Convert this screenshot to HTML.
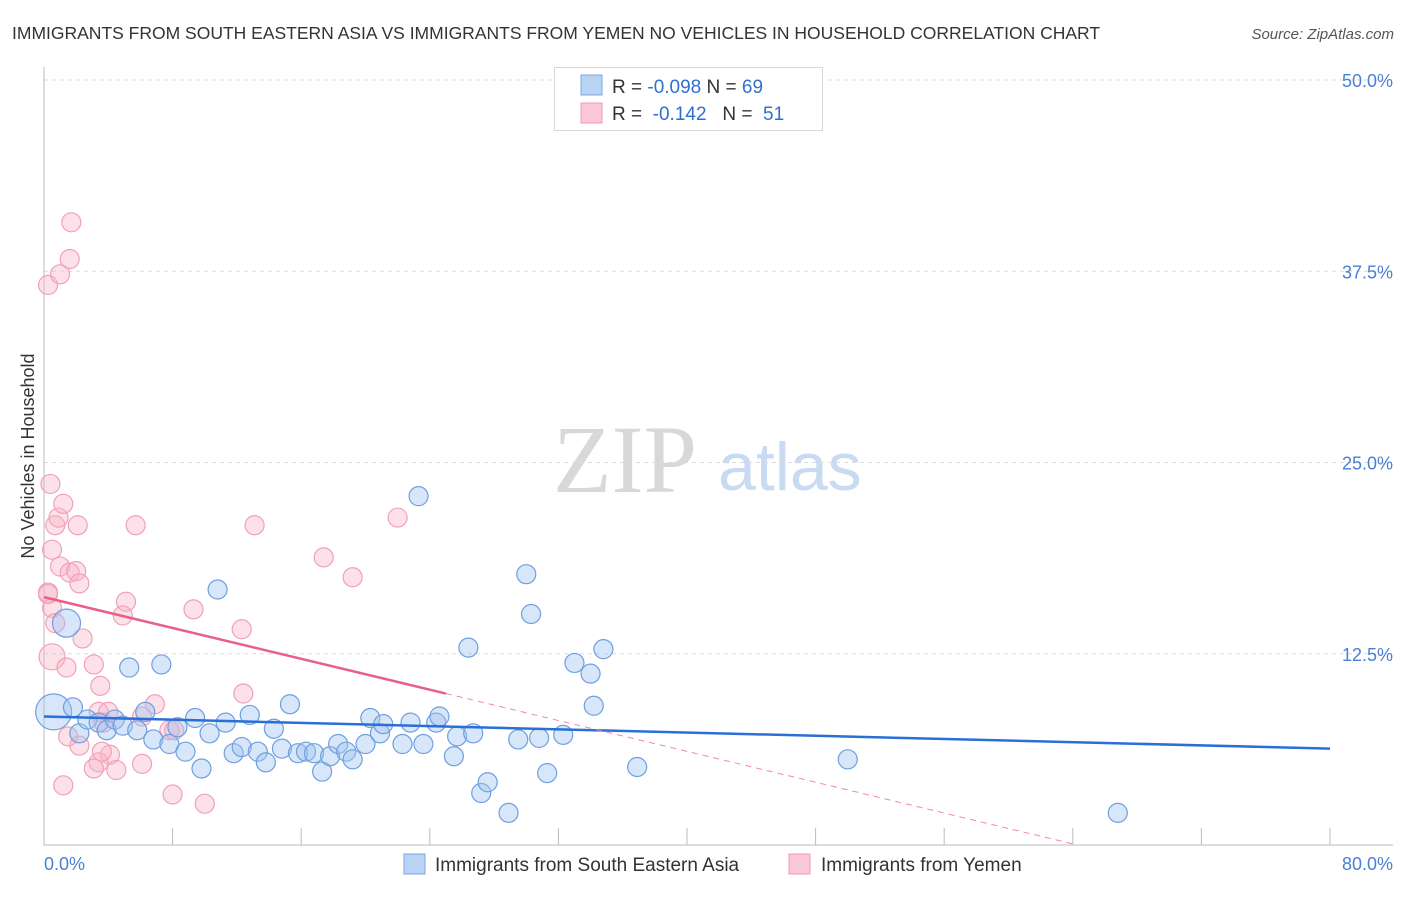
<!DOCTYPE html>
<html><head><meta charset="utf-8"><style>
body{margin:0;background:#fff;font-family:"Liberation Sans",sans-serif;}
svg text{font-family:"Liberation Sans",sans-serif;}
</style></head><body>
<svg id="chart" width="1406" height="892" viewBox="0 0 1406 892" xmlns="http://www.w3.org/2000/svg">
<text x="12" y="39" font-size="17.5" fill="#333">IMMIGRANTS FROM SOUTH EASTERN ASIA VS IMMIGRANTS FROM YEMEN NO VEHICLES IN HOUSEHOLD CORRELATION CHART</text>
<text x="1394" y="39" font-size="15" fill="#555" font-style="italic" text-anchor="end">Source: ZipAtlas.com</text>
<g>
<text x="553" y="492" font-size="96" fill="#d8d8d8" font-family="Liberation Serif" style="font-family:'Liberation Serif',serif">ZIP</text>
<text x="718" y="490" font-size="68" fill="#c9dbf3">atlas</text>
</g>
<g id="grid"></g>
<g id="axes"></g>
<g id="pts"></g>
<g id="trends"></g>
<text transform="translate(34,456) rotate(-90)" font-size="18" fill="#333" text-anchor="middle">No Vehicles in Household</text>
<g>
<rect x="554.5" y="67.5" width="268" height="63" fill="#fff" stroke="#d8d8d8"/>
<rect x="581" y="75" width="21" height="20" fill="#b9d3f5" stroke="#7aa7e6"/>
<text x="612" y="93" font-size="19" fill="#333">R = <tspan fill="#2f6fd0">-0.098</tspan>   N = <tspan fill="#2f6fd0">69</tspan></text>
<rect x="581" y="103" width="21" height="20" fill="#fac8d6" stroke="#f09ab5"/>
<text x="612" y="120" font-size="19" fill="#333" xml:space="preserve">R =  <tspan fill="#2f6fd0">-0.142</tspan>   N =  <tspan fill="#2f6fd0">51</tspan></text>
</g>
<g>
<rect x="404" y="854" width="21" height="20" fill="#b9d3f5" stroke="#7aa7e6"/>
<text x="435" y="871" font-size="19" fill="#333">Immigrants from South Eastern Asia</text>
<rect x="789" y="854" width="21" height="20" fill="#fac8d6" stroke="#f09ab5"/>
<text x="821" y="871" font-size="19" fill="#333">Immigrants from Yemen</text>
</g>
</svg>
<script>
const yTicks=[12.5,25,37.5,50];
const yTickLabels=["12.5%","25.0%","37.5%","50.0%"];
const xTickLabels=["0.0%","80.0%"];
const blueX=[0.5,0.6,1.4,1.8,2.2,2.7,3.4,3.9,4.4,4.9,5.3,5.8,6.3,6.8,7.3,7.8,8.3,8.8,9.4,9.8,10.3,10.8,11.3,11.8,12.3,12.8,13.3,13.8,14.3,14.8,15.3,15.8,16.3,16.8,17.3,17.8,18.3,18.8,19.2,20.0,20.3,20.9,21.1,22.3,22.8,23.3,23.6,24.4,24.6,25.5,25.7,26.4,26.7,27.2,27.6,28.9,29.5,30.0,30.3,30.8,31.3,32.3,33.0,34.0,34.2,34.8,36.9,50.0,66.8];
const blueY=[8.0,8.7,14.5,9.0,7.3,8.2,8.0,7.5,8.2,7.8,11.6,7.5,8.7,6.9,11.8,6.6,7.7,6.1,8.3,5.0,7.3,16.7,8.0,6.0,6.4,8.5,6.1,5.4,7.6,6.3,9.2,6.0,6.1,6.0,4.8,5.8,6.6,6.1,5.6,6.6,8.3,7.3,7.9,6.6,8.0,22.8,6.6,8.0,8.4,5.8,7.1,12.9,7.3,3.4,4.1,2.1,6.9,17.7,15.1,7.0,4.7,7.2,11.9,11.2,9.1,12.8,5.1,5.6,2.1];
const blueSize=[4,3,2];
const pinkX=[0.25,1.0,1.7,1.6,0.4,0.7,0.9,1.2,2.1,0.5,1.0,1.6,2.0,2.2,0.25,0.5,0.5,2.4,1.4,3.1,3.5,3.4,3.7,4.1,3.4,3.1,4.5,1.5,2.2,1.2,5.7,5.1,4.9,6.9,7.8,8.0,10.0,9.3,12.3,12.4,13.1,17.4,19.2,22.0,6.1,6.1,0.25,4.0,3.6,0.7,8.1];
const pinkY=[36.6,37.3,40.7,38.3,23.6,20.9,21.4,22.3,20.9,19.3,18.2,17.8,17.9,17.1,16.5,15.5,12.3,13.5,11.6,11.8,10.4,8.7,8.0,5.9,5.4,5.0,4.9,7.1,6.5,3.9,20.9,15.9,15.0,9.2,7.5,3.3,2.7,15.4,14.1,9.9,20.9,18.8,17.5,21.4,5.3,8.4,16.4,8.7,6.1,14.5,7.5];
const blueTrend=[8.4,6.3];      // value at x=0 and x=80
const pinkTrend=[16.2,-0.252];  // intercept, slope
const pinkSolidEnd=25;

const X0=44,X1=1330,Y0=845,Y50=80;
const sx=v=>X0+(X1-X0)*v/80;
const sy=v=>Y0-(Y0-Y50)*v/50;
const NS="http://www.w3.org/2000/svg";
function mk(tag,attrs,parent){const e=document.createElementNS(NS,tag);for(const k in attrs)e.setAttribute(k,attrs[k]);parent.appendChild(e);return e;}
const grid=document.getElementById('grid'),axes=document.getElementById('axes'),pts=document.getElementById('pts'),tr=document.getElementById('trends');
yTicks.forEach((t,i)=>{
  const l=mk('line',{x1:44,x2:1393,y1:sy(t),y2:sy(t),stroke:'#dcdcdc','stroke-dasharray':'4,4'},grid);
  
  
  const tx=mk('text',{x:1393,y:sy(t)+7,'font-size':18,fill:'#4a7fd4','text-anchor':'end'},axes);
  tx.textContent=yTickLabels[i];
  
  
});
const ax=mk('line',{x1:44,x2:1393,y1:Y0,y2:Y0,stroke:'#bbb'},axes);


const ay=mk('line',{x1:44,x2:44,y1:67,y2:Y0,stroke:'#bbb'},axes);


for(let v=8;v<=80;v+=8){
  const t=mk('line',{x1:sx(v),x2:sx(v),y1:828,y2:Y0,stroke:'#bbb'},axes);
  
  
}
const xl0=mk('text',{x:44,y:870,'font-size':18,fill:'#4a7fd4'},axes);
xl0.textContent=xTickLabels[0];


const xl1=mk('text',{x:1393,y:870,'font-size':18,fill:'#4a7fd4','text-anchor':'end'},axes);
xl1.textContent=xTickLabels[1];



const rad=s=>[9.5,12,14,18][s||0];
pinkX.forEach((x,i)=>{
  const c=mk('circle',{cx:sx(x),cy:sy(pinkY[i]),r:i===16?13:9.5,fill:'rgba(248,180,200,0.4)',stroke:'#f2a0ba','stroke-width':1.2},pts);
  
  
});
blueX.forEach((x,i)=>{
  const c=mk('circle',{cx:sx(x),cy:sy(blueY[i]),r:rad(blueSize[i]),fill:'rgba(160,196,240,0.42)',stroke:'#6e9fe0','stroke-width':1.2},pts);
  
  
});
const bl=mk('line',{x1:sx(0),y1:sy(blueTrend[0]),x2:sx(80),y2:sy(blueTrend[1]),stroke:'#2a6fd6','stroke-width':2.5},tr);


const pf=x=>pinkTrend[0]+pinkTrend[1]*x;
const pl=mk('line',{x1:sx(0),y1:sy(pf(0)),x2:sx(pinkSolidEnd),y2:sy(pf(pinkSolidEnd)),stroke:'#e8608a','stroke-width':2.5},tr);


const xEnd=-pinkTrend[0]/pinkTrend[1];
const pd=mk('line',{x1:sx(pinkSolidEnd),y1:sy(pf(pinkSolidEnd)),x2:sx(xEnd),y2:sy(0),stroke:'#ec8aa8','stroke-width':1,'stroke-dasharray':'6,5'},tr);


</script>
</body></html>
